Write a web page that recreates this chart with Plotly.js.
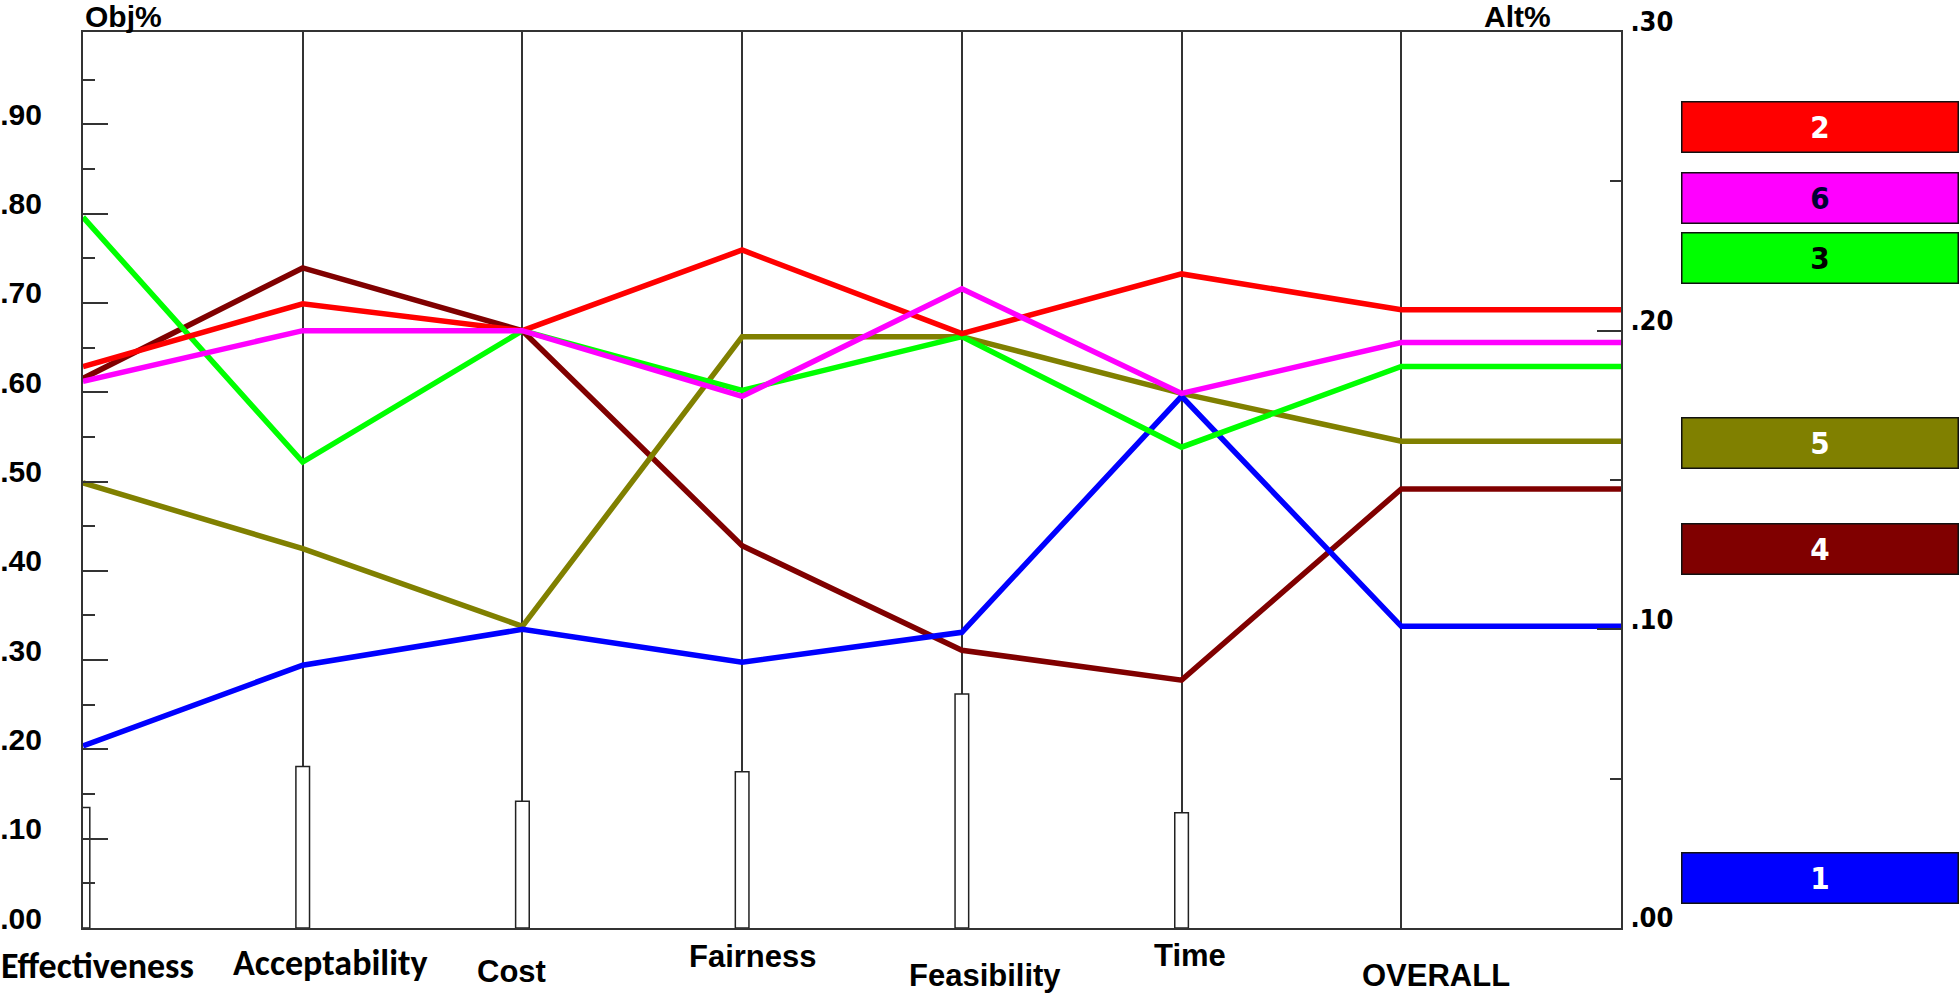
<!DOCTYPE html>
<html>
<head>
<meta charset="utf-8">
<script src="https://cdn.plot.ly/plotly-3.0.1.min.js"></script>
<style>
  html, body { margin: 0; padding: 0; background: #fff; }
  #plot { width: 1960px; height: 994px; }
</style>
</head>
<body>
<div id="plot"></div>
<script>
// criteria along the bottom, last column is the overall result
var criteria = ["Effectiveness", "Acceptability", "Cost", "Fairness", "Feasibility", "Time", "OVERALL"];

// objective weights (Obj%, left axis) - one bar per criterion
var objWeights = [0.135, 0.181, 0.142, 0.175, 0.262, 0.129];

// alternative priorities (Alt%, right axis), one value per column
var alt1 = [0.061, 0.088, 0.100, 0.089, 0.099, 0.178, 0.101];
var alt2 = [0.188, 0.209, 0.200, 0.227, 0.199, 0.219, 0.207];
var alt3 = [0.238, 0.156, 0.200, 0.180, 0.198, 0.161, 0.188];
var alt4 = [0.184, 0.221, 0.200, 0.128, 0.093, 0.083, 0.147];
var alt5 = [0.149, 0.127, 0.101, 0.198, 0.198, 0.179, 0.163];
var alt6 = [0.183, 0.200, 0.200, 0.178, 0.214, 0.179, 0.196];

var leftTicks = [0, 0.1, 0.2, 0.3, 0.4, 0.5, 0.6, 0.7, 0.8, 0.9];
var leftTickText = [".00", ".10", ".20", ".30", ".40", ".50", ".60", ".70", ".80", ".90"];
var rightTicks = [0, 0.1, 0.2, 0.3];
var rightTickText = [".00", ".10", ".20", ".30"];

// plot area in pixels
var L = 83, R = 1621, T = 32, B = 928;
function px(x) { return (x - L) / (R - L); }
function py(y) { return (B - y) / (B - T); }

var idx = criteria.map(function (c, i) { return i; });

var sans = "'Liberation Sans', Arial, sans-serif";
var narrow = "'Liberation Sans Narrow', 'Arial Narrow', 'DejaVu Sans Condensed', 'Liberation Sans', sans-serif";
var calibriLike = "Carlito, Calibri, Lato, sans-serif";

function altTrace(vals, color) {
  // overall value is carried on to the right-hand axis
  return {
    x: idx.concat([criteria.length]),
    y: vals.concat([vals[vals.length - 1]]),
    type: "scatter",
    mode: "lines",
    yaxis: "y2",
    line: { color: color, width: 5.5 },
    hoverinfo: "skip",
    cliponaxis: false
  };
}

var bars = {
  x: idx.slice(0, objWeights.length),
  y: objWeights,
  type: "bar",
  width: 0.062,
  marker: { color: "#ffffff", line: { color: "#222", width: 1.5 } },
  hoverinfo: "skip"
};

var data = [
  bars,
  altTrace(alt4, "#800000"),
  altTrace(alt5, "#808000"),
  altTrace(alt1, "#0000ff"),
  altTrace(alt3, "#00ff00"),
  altTrace(alt2, "#ff0000"),
  altTrace(alt6, "#ff00ff")
];

var axisCol = "#333";
var annotations = [];

annotations.push({
  text: "Obj%", xref: "paper", yref: "paper", x: 0, y: py(16),
  xanchor: "left", yanchor: "middle", showarrow: false,
  font: { family: sans, size: 30, weight: "bold", color: "#000" }
});
annotations.push({
  text: "Alt%", xref: "paper", yref: "paper", x: px(1553), y: py(16),
  xanchor: "right", yanchor: "middle", showarrow: false,
  font: { family: sans, size: 30, weight: "bold", color: "#000" }
});

// criterion labels (staggered like the original)
var labelPos = [
  [97, 966, calibriLike, 36], [330, 963, calibriLike, 36], [511, 971, sans, 31],
  [753, 956, sans, 31], [985, 975, sans, 31], [1190, 955, sans, 31],
  [1436, 975, sans, 31]
];
criteria.forEach(function (c, i) {
  var p = labelPos[i];
  annotations.push({
    text: c, xref: "paper", yref: "paper", x: px(p[0]), y: py(p[1]),
    xanchor: "center", yanchor: "middle", showarrow: false,
    font: { family: p[2], size: p[3], weight: "bold", color: "#000" }
  });
});

// alternative boxes on the right
var boxes = [
  ["2", "#ff0000", "#ffffff", 127],
  ["6", "#ff00ff", "#000033", 198],
  ["3", "#00ff00", "#000000", 258],
  ["5", "#808000", "#ffffff", 443],
  ["4", "#800000", "#ffffff", 549],
  ["1", "#0000ff", "#ffffff", 878]
];
boxes.forEach(function (b) {
  annotations.push({
    text: b[0], xref: "paper", yref: "paper", x: px(1820), y: py(b[3]),
    xanchor: "center", yanchor: "middle", showarrow: false,
    width: 275, height: 49, bgcolor: b[1], bordercolor: "#111", borderwidth: 1.5, borderpad: 0,
    font: { family: narrow, size: 31, weight: "bold", color: b[2] }
  });
});

var layout = {
  width: 1960,
  height: 994,
  margin: { l: L, r: 1960 - R, t: T, b: 994 - B, pad: 0 },
  paper_bgcolor: "#ffffff",
  plot_bgcolor: "#ffffff",
  showlegend: false,
  xaxis: {
    range: [0, criteria.length],
    tickvals: idx,
    showticklabels: false,
    ticks: "",
    showgrid: true,
    gridcolor: axisCol,
    gridwidth: 2,
    zeroline: false,
    showline: true,
    linecolor: axisCol,
    linewidth: 2,
    mirror: true,
    fixedrange: true
  },
  yaxis: {
    range: [0, 1.0035],
    tickvals: leftTicks,
    ticktext: leftTickText,
    ticks: "inside",
    ticklen: 25,
    tickwidth: 2,
    tickcolor: axisCol,
    minor: {
      tickvals: [0.05, 0.15, 0.25, 0.35, 0.45, 0.55, 0.65, 0.75, 0.85, 0.95],
      ticks: "inside", ticklen: 12, tickwidth: 2, tickcolor: axisCol
    },
    ticklabelstandoff: 33,
    ticklabelshift: -10,
    tickfont: { family: sans, size: 30, weight: "bold", color: "#000" },
    showgrid: false,
    zeroline: false,
    showline: true,
    linecolor: axisCol,
    linewidth: 2,
    fixedrange: true
  },
  yaxis2: {
    overlaying: "y",
    side: "right",
    range: [0, 0.30],
    tickvals: rightTicks,
    ticktext: rightTickText,
    ticks: "inside",
    ticklen: 24,
    tickwidth: 2,
    tickcolor: axisCol,
    minor: {
      tickvals: [0.05, 0.15, 0.25],
      ticks: "inside", ticklen: 11, tickwidth: 2, tickcolor: axisCol
    },
    ticklabelstandoff: 2,
    ticklabelshift: -10,
    tickfont: { family: narrow, size: 27, weight: "bold", color: "#000" },
    showgrid: false,
    zeroline: false,
    showline: true,
    linecolor: axisCol,
    linewidth: 2,
    fixedrange: true
  },
  annotations: annotations
};

Plotly.newPlot("plot", data, layout, { displayModeBar: false, staticPlot: true });
</script>
</body>
</html>
